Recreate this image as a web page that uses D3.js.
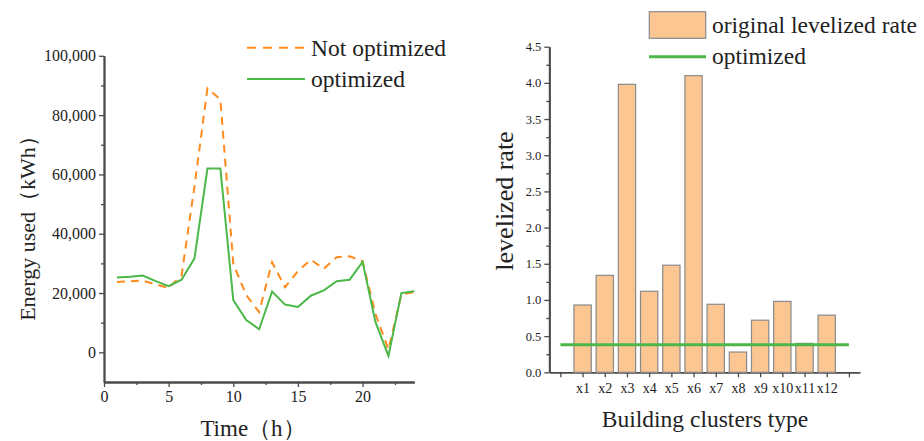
<!DOCTYPE html>
<html><head><meta charset="utf-8">
<script src="https://cdn.jsdelivr.net/npm/d3@7"></script>
<style>
body{margin:0;background:#fff;}
svg{display:block;}
text{font-family:"Liberation Serif","Times New Roman",serif;fill:#222;}
</style></head>
<body>
<svg id="c" width="924" height="441"></svg>
<script>
// ---------- data ----------
const hours = [1,2,3,4,5,6,7,8,9,10,11,12,13,14,15,16,17,18,19,20,21,22,23,24];
const notOptimized = [23700,24000,24200,22900,21700,26000,56000,89000,85300,29900,19300,13600,30400,22000,27400,31200,28200,32100,32400,30700,12900,1000,19500,20300];
const optimized = [25200,25500,25900,24000,22300,24500,31700,62000,62000,17600,10900,7800,20500,16100,15300,19100,20900,24000,24500,30500,10200,-1200,20000,20600];
const leftYTicks = [0,20000,40000,60000,80000,100000];
const leftXTicks = [0,5,10,15,20];

const clusters = ["x1","x2","x3","x4","x5","x6","x7","x8","x9","x10","x11","x12"];
const originalRate = [0.93,1.34,3.98,1.12,1.48,4.10,0.94,0.28,0.72,0.98,0.40,0.79];
const optimizedRate = 0.38;
const rightYTicks = [0,0.5,1,1.5,2,2.5,3,3.5,4,4.5];

const svg = d3.select("#c");
const axisColor = "#4a4a4a";
const orange = "#ff8a1e";
const green = "#4cb84a";

function styleAxis(g){
  g.select(".domain").attr("stroke",axisColor).attr("stroke-width",1.8);
  g.selectAll(".tick line").attr("stroke",axisColor).attr("stroke-width",1.3);
}

// ---------- left chart ----------
const xL = d3.scaleLinear().domain([0,24]).range([104,414.3]);
const yL = d3.scaleLinear().domain([-10000,100000]).range([382,55.8]);

const gLYminor = svg.append("g").attr("transform","translate(104,0)")
  .call(d3.axisLeft(yL).tickValues([10000,30000,50000,70000,90000]).tickSize(3).tickFormat("").tickSizeOuter(0));
styleAxis(gLYminor);
const gLY = svg.append("g").attr("transform","translate(104,0)")
  .call(d3.axisLeft(yL).tickValues(leftYTicks).tickSize(5).tickSizeOuter(0).tickPadding(3).tickFormat(d3.format(",")));
styleAxis(gLY);
gLY.selectAll(".tick text").attr("font-size",16).attr("fill","#222").attr("font-family","Liberation Serif");

const gLXminor = svg.append("g").attr("transform","translate(0,382)")
  .call(d3.axisBottom(xL).tickValues([2.5,7.5,12.5,17.5,22.5]).tickSize(3).tickFormat("").tickSizeOuter(0));
styleAxis(gLXminor);
const gLX = svg.append("g").attr("transform","translate(0,382)")
  .call(d3.axisBottom(xL).tickValues(leftXTicks).tickSize(5).tickSizeOuter(0).tickPadding(4).tickFormat(d3.format("d")));
styleAxis(gLX);
gLX.selectAll(".tick text").attr("font-size",16).attr("fill","#222").attr("font-family","Liberation Serif");

const lineFn = d3.line().x((d,i)=>xL(hours[i])).y(d=>yL(d));
svg.append("path").datum(notOptimized).attr("d",lineFn)
  .attr("fill","none").attr("stroke",orange).attr("stroke-width",2).attr("stroke-dasharray","8,6");
svg.append("path").datum(optimized).attr("d",lineFn)
  .attr("fill","none").attr("stroke",green).attr("stroke-width",2);

// left legend
svg.append("line").attr("x1",247).attr("x2",305).attr("y1",47.7).attr("y2",47.7)
  .attr("stroke",orange).attr("stroke-width",2).attr("stroke-dasharray","9,7");
svg.append("text").attr("x",311).attr("y",55.5).attr("font-size",23.5).text("Not optimized");
svg.append("line").attr("x1",247).attr("x2",305).attr("y1",79).attr("y2",79)
  .attr("stroke",green).attr("stroke-width",2);
svg.append("text").attr("x",311).attr("y",86.5).attr("font-size",23.5).text("optimized");

// left axis titles
svg.append("text").attr("transform","translate(35,223) rotate(-90)")
  .attr("text-anchor","middle").attr("font-size",22).text("Energy used（kWh）");
svg.append("text").attr("x",253).attr("y",436).attr("text-anchor","middle")
  .attr("font-size",23).text("Time（h）");

// ---------- right chart ----------
const xR = d3.scaleLinear().domain([-0.5,13.5]).range([549.3,860]);
const yR = d3.scaleLinear().domain([0,4.5]).range([372.3,46.7]);

const minorR = d3.range(0.25,4.5,0.5);
const gRYminor = svg.append("g").attr("transform","translate(549.3,0)")
  .call(d3.axisLeft(yR).tickValues(minorR).tickSize(3).tickFormat("").tickSizeOuter(0));
styleAxis(gRYminor);
const gRY = svg.append("g").attr("transform","translate(549.3,0)")
  .call(d3.axisLeft(yR).tickValues(rightYTicks).tickSize(5).tickSizeOuter(0).tickPadding(3).tickFormat(d3.format(".1f")));
styleAxis(gRY);
gRY.selectAll(".tick text").attr("font-size",12.5).attr("fill","#222").attr("font-family","Liberation Serif");

const catPos = d3.range(0,14);
const gRX = svg.append("g").attr("transform","translate(0,372.3)")
  .call(d3.axisBottom(xR).tickValues(catPos).tickSize(5).tickSizeOuter(0).tickPadding(6)
    .tickFormat(d => (d>=1 && d<=clusters.length) ? clusters[d-1] : ""));
styleAxis(gRX);
gRX.selectAll(".tick text").attr("font-size",14).attr("fill","#222").attr("font-family","Liberation Serif");

const bw = 0.78;
svg.append("g").selectAll("rect").data(originalRate).join("rect")
  .attr("x",(d,i)=>xR(i+1-bw/2)).attr("width",xR(bw)-xR(0))
  .attr("y",d=>yR(d)).attr("height",d=>yR(0)-yR(d))
  .attr("fill","#fcc693").attr("stroke","#8a8a8a").attr("stroke-width",1.2);

svg.append("line").attr("x1",xR(0)).attr("x2",xR(13))
  .attr("y1",yR(optimizedRate)).attr("y2",yR(optimizedRate))
  .attr("stroke",green).attr("stroke-width",3);

// right legend
svg.append("rect").attr("x",649.3).attr("y",11.7).attr("width",56.4).attr("height",26.6)
  .attr("fill","#fcc693").attr("stroke","#8a8a8a").attr("stroke-width",1.2);
svg.append("text").attr("x",712).attr("y",32.5).attr("font-size",23.5).text("original levelized rate");
svg.append("line").attr("x1",649).attr("x2",706).attr("y1",56.7).attr("y2",56.7)
  .attr("stroke",green).attr("stroke-width",3);
svg.append("text").attr("x",712).attr("y",64).attr("font-size",23.5).text("optimized");

// right axis titles
svg.append("text").attr("transform","translate(513,201) rotate(-90)")
  .attr("text-anchor","middle").attr("font-size",26).text("levelized rate");
svg.append("text").attr("x",705).attr("y",427).attr("text-anchor","middle")
  .attr("font-size",23.5).text("Building clusters type");
</script>
</body></html>
